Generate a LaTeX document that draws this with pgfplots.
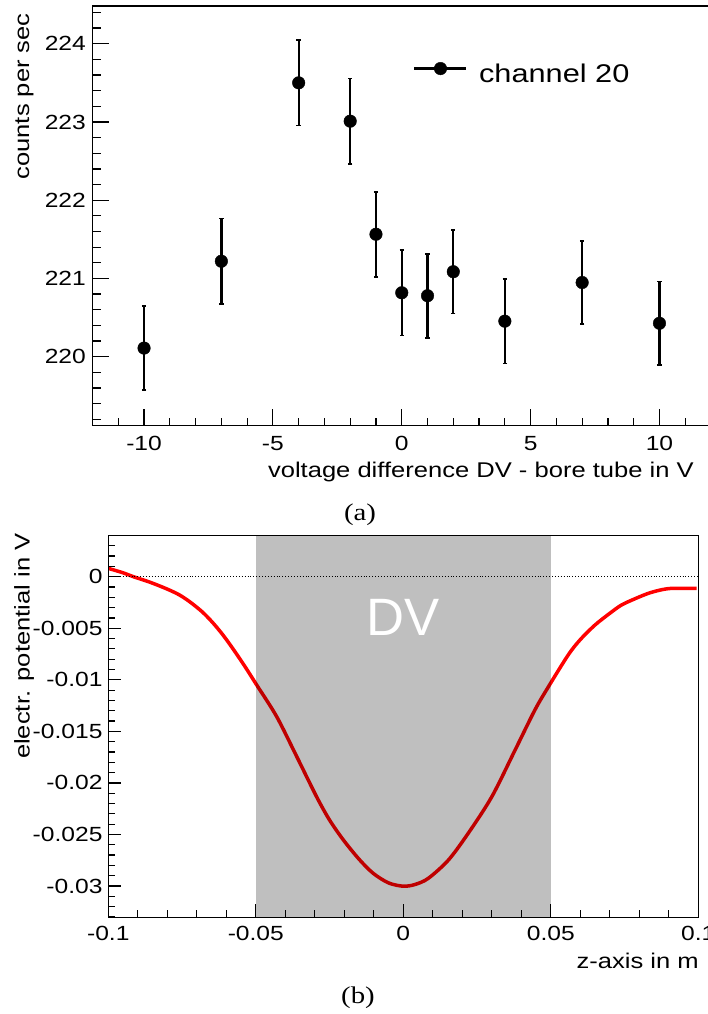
\documentclass[border=0pt]{standalone}
\usepackage{fontspec}
\setmainfont[FakeStretch=1.2]{Liberation Sans}
\newfontfamily\capserif[FakeStretch=1.2]{Liberation Serif}
\newfontfamily\dvfont{Liberation Sans}
\usepackage{pgfplots}
\pgfplotsset{compat=1.18}
\begin{document}
\begin{tikzpicture}[x=1pt,y=1pt]
\useasboundingbox (0,0) rectangle (707,-1014);
\pgfplotsset{rootstyle/.style={scale only axis, axis on top, tick align=inside, tick pos=left,
  axis line style={line width=1.3pt, black}, tick style={line width=1.2pt, black},
  ticklabel style={font=\fontsize{20.5}{24}\selectfont, inner sep=0pt},
  scaled ticks=false}}
% ---------------- panel (a) ----------------
\begin{axis}[rootstyle, at={(92.5pt,-425.7pt)}, anchor=south west,
  width=618.5pt, height=419.7pt,
  xmin=-12, xmax=12, ymin=219.118, ymax=224.482,
  xtick={-10,-5,0,5,10}, xticklabels={-10,-5,0,5,10},
  minor xtick={-12,-11,-9,-8,-7,-6,-4,-3,-2,-1,1,2,3,4,6,7,8,9,11,12},
  ytick={220,221,222,223,224}, yticklabels={220,221,222,223,224},
  minor ytick={219.2,219.4,219.6,219.8,220.2,220.4,220.6,220.8,221.2,221.4,221.6,221.8,222.2,222.4,222.6,222.8,223.2,223.4,223.6,223.8,224.2,224.4},
  major tick length=16.5pt, minor tick length=8pt,
  xticklabel style={anchor=north, yshift=-10.7pt},
  yticklabel style={anchor=east, xshift=-6.5pt},
  legend style={draw=none, fill=none, at={(0.5177,0.8408)}, anchor=west,
    inner sep=0pt, font=\fontsize{25.6}{30}\selectfont,
    nodes={inner sep=0pt}, /tikz/every odd column/.append style={column sep=12pt}},
  legend image code/.code={\draw[line width=2.2pt, black] (0pt,5pt) -- (52pt,5pt);
    \fill[black] (26.5pt,5pt) circle (6.3pt);},
]
\addplot[only marks, mark=*, mark size=6.3pt, black,
  error bars/.cd, y dir=both, y explicit, error mark=|,
  error bar style={line width=2.3pt, black},
  error mark options={line width=1.8pt, mark size=2.2pt, black}]
coordinates {
(-10,220.11) +- (0,0.54)
(-7,221.22) +- (0,0.545)
(-4,223.50) +- (0,0.545)
(-2,223.01) +- (0,0.545)
(-1,221.565) +- (0,0.543)
(0,220.817) +- (0,0.545)
(1,220.779) +- (0,0.537)
(2,221.086) +- (0,0.533)
(4,220.454) +- (0,0.54)
(7,220.948) +- (0,0.535)
(10,220.427) +- (0,0.533)
};
\addlegendentry{channel 20}
\end{axis}
% ---------------- panel (b) ----------------
\begin{axis}[rootstyle, at={(108.3pt,-917.3pt)}, anchor=south west,
  width=590pt, height=381.6pt,
  xmin=-0.1, xmax=0.1, ymin=-0.033036, ymax=0.003977,
  xtick={-0.1,-0.05,0,0.05,0.1}, xticklabels={-0.1,-0.05,0,0.05,0.1},
  minor xtick={-0.09,-0.08,-0.07,-0.06,-0.04,-0.03,-0.02,-0.01,0.01,0.02,0.03,0.04,0.06,0.07,0.08,0.09},
  ytick={-0.03,-0.025,-0.02,-0.015,-0.01,-0.005,0},
  yticklabels={-0.03,-0.025,-0.02,-0.015,-0.01,-0.005,0},
  minor ytick={-0.033,-0.032,-0.031,-0.029,-0.028,-0.027,-0.026,-0.024,-0.023,-0.022,-0.021,-0.019,-0.018,-0.017,-0.016,-0.014,-0.013,-0.012,-0.011,-0.009,-0.008,-0.007,-0.006,-0.004,-0.003,-0.002,-0.001,0.001,0.002,0.003},
  major tick length=13pt, minor tick length=7pt,
  xticklabel style={anchor=north, yshift=-8.7pt},
  yticklabel style={anchor=east, xshift=-5.6pt},
]
\addplot[color={rgb,255:red,255;green,0;blue,0}, line width=3.5pt, smooth, tension=0.5] table {
x y
-0.1000 0.00081
-0.0950 0.00038
-0.0915 0.0
-0.0860 -0.00052
-0.0802 -0.00118
-0.0760 -0.00175
-0.0723 -0.00245
-0.0680 -0.00345
-0.0644 -0.00452
-0.0610 -0.00570
-0.0576 -0.00705
-0.0537 -0.00870
-0.0497 -0.0105
-0.0429 -0.01358
-0.0361 -0.01746
-0.0294 -0.02134
-0.0250 -0.02360
-0.0203 -0.02554
-0.0150 -0.02740
-0.0102 -0.02877
-0.0050 -0.02970
0.0000 -0.03002
0.0040 -0.02985
0.0085 -0.02925
0.0153 -0.02748
0.0220 -0.02489
0.0300 -0.02134
0.0379 -0.01681
0.0446 -0.01293
0.0492 -0.01067
0.0559 -0.00759
0.0600 -0.00610
0.0650 -0.00468
0.0700 -0.00355
0.0740 -0.00274
0.0790 -0.00208
0.0831 -0.00161
0.0870 -0.00130
0.0910 -0.00113
0.0994 -0.00113
};
\addplot[black, dotted, line width=0.9pt] coordinates {(-0.1,0) (0.1,0)};
\addplot[draw=none, fill=black, fill opacity=0.25] coordinates {(-0.05,-0.034) (-0.05,0.005) (0.05,0.005) (0.05,-0.034)} -- cycle;
\node[anchor=base, white, font=\dvfont\fontsize{52.6}{60}\selectfont] at (axis cs:0,-0.00575) {DV};
\end{axis}
% ---------------- labels ----------------
\node[anchor=base east, inner sep=0pt, font=\fontsize{21.3}{25}\selectfont] at (694,-477) {voltage difference DV - bore tube in V};
\node[rotate=90, anchor=base east, inner sep=0pt, font=\fontsize{21.3}{25}\selectfont] at (29,-13) {counts per sec};
\node[anchor=base, inner sep=0pt, font=\capserif\fontsize{24}{28}\selectfont] at (360,-520.5) {(a)};
\node[anchor=base east, inner sep=0pt, font=\fontsize{21.3}{25}\selectfont] at (699,-968.3) {z-axis in m};
\node[rotate=90, anchor=base east, inner sep=0pt, font=\fontsize{21.3}{25}\selectfont] at (29.5,-533.3) {electr. potential in V};
\node[anchor=base, inner sep=0pt, font=\capserif\fontsize{24}{28}\selectfont] at (358,-1003) {(b)};
\end{tikzpicture}
\end{document}
